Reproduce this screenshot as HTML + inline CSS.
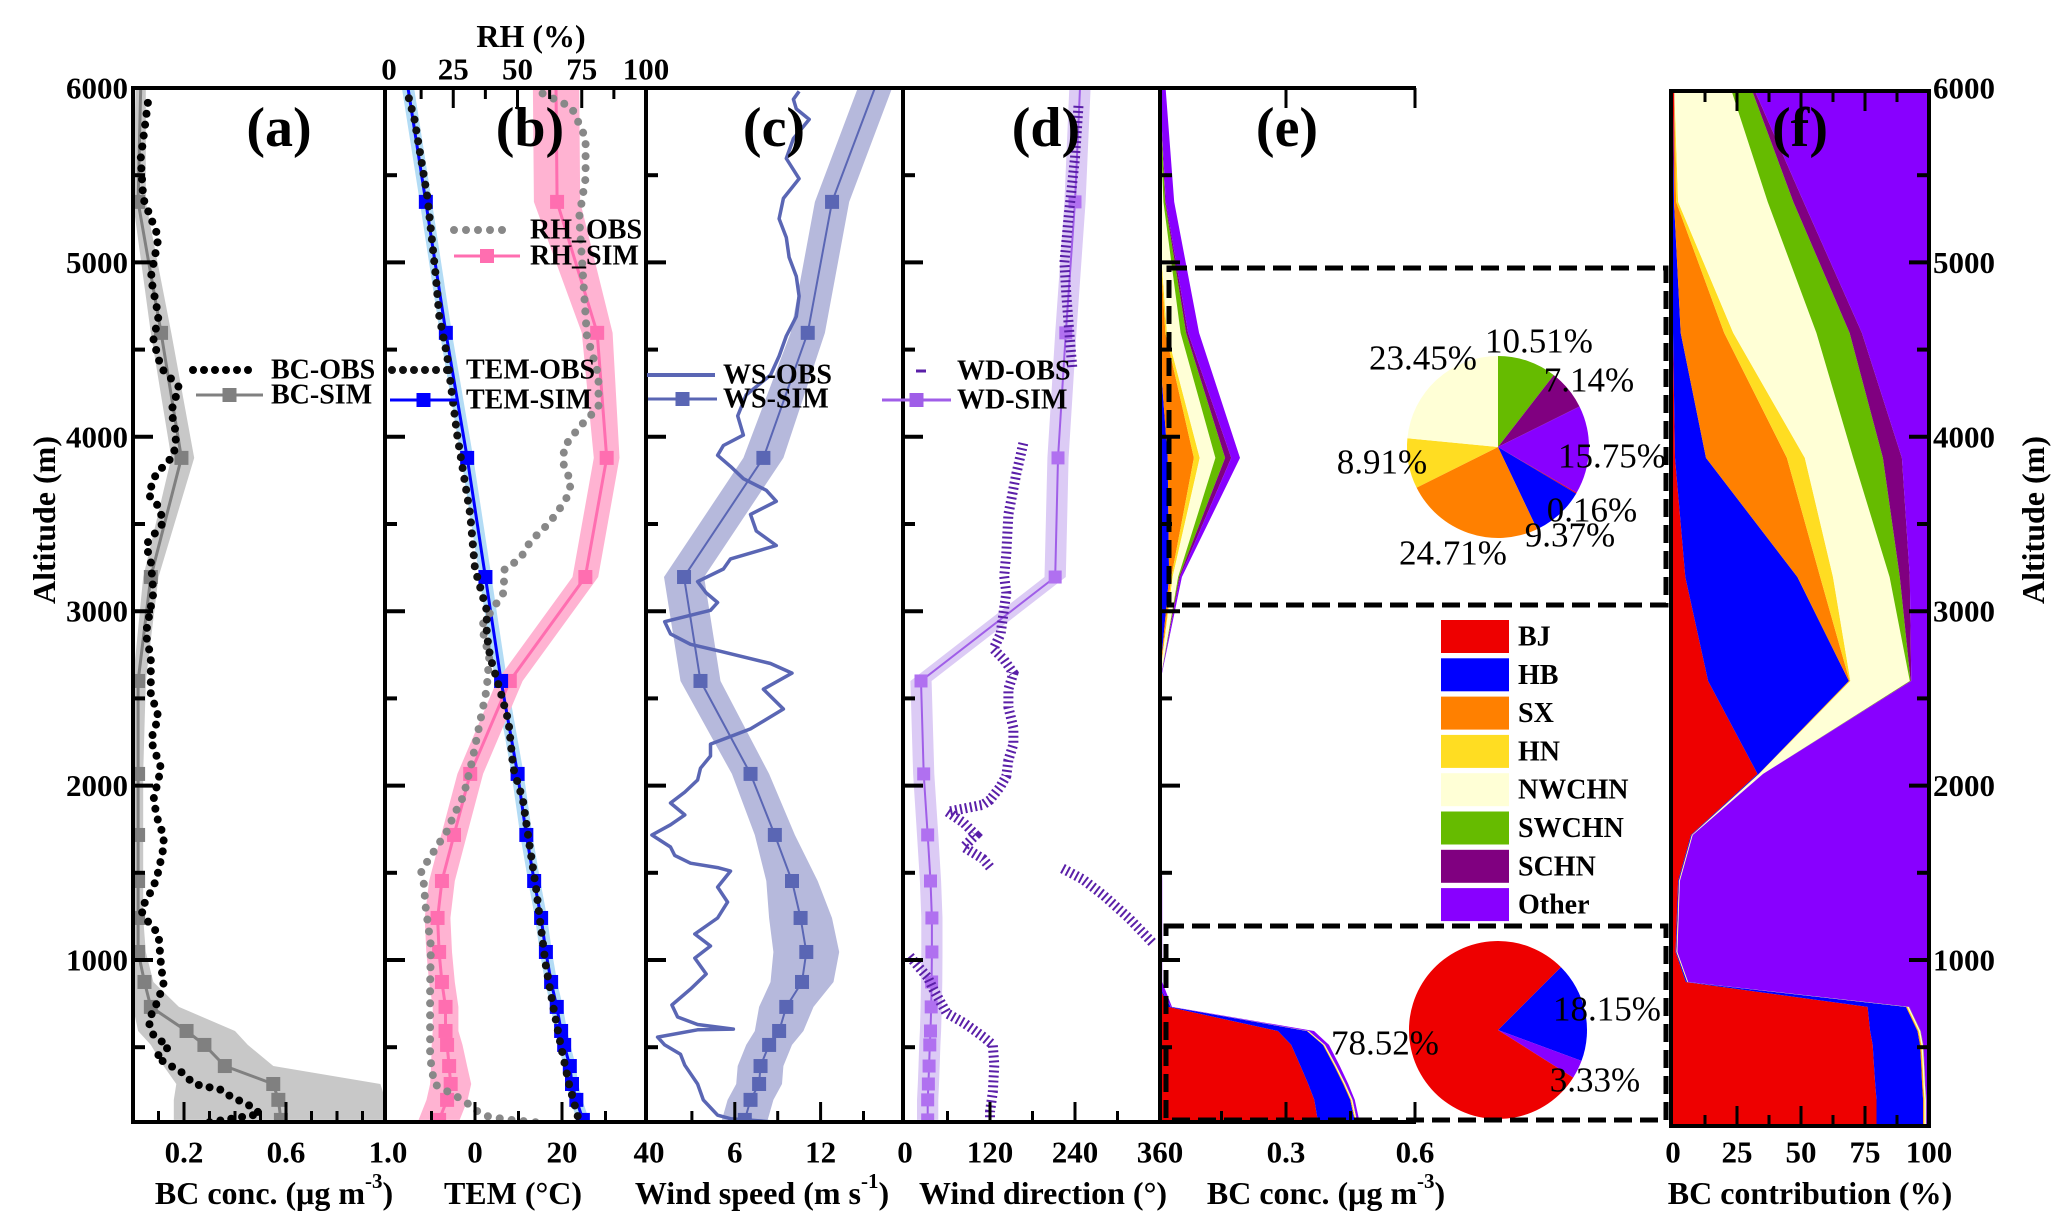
<!DOCTYPE html>
<html><head><meta charset="utf-8"><style>
html,body{margin:0;padding:0;background:#fff;}
svg{display:block;font-family:"Liberation Serif",serif;}
.tk{font-weight:bold;font-size:31px;}
.ti{font-weight:bold;font-size:32px;}
.pl{font-weight:bold;font-size:56px;}
.lg{font-weight:bold;font-size:28px;}
.pv{font-size:35px;}
</style></head><body>
<svg id="fig" width="2067" height="1230" viewBox="0 0 2067 1230" xmlns="http://www.w3.org/2000/svg">
<defs>
<clipPath id="cA"><rect x="133" y="88" width="252" height="1034"/></clipPath>
<clipPath id="cB"><rect x="385" y="88" width="261" height="1034"/></clipPath>
<clipPath id="cC"><rect x="646" y="88" width="257" height="1034"/></clipPath>
<clipPath id="cD"><rect x="903" y="88" width="257" height="1034"/></clipPath>
<clipPath id="cE"><rect x="1160" y="88" width="254" height="1034"/></clipPath>
<clipPath id="cF"><rect x="1671" y="91" width="258" height="1035"/></clipPath>
</defs>
<g id="marks"></g>
<g id="axes"></g>
</svg>
<script>
// ---------- data ----------
const levels=[83,198,289,392,513,593,731,874,1046,1241,1453,1717,2067,2600,3196,3879,4596,5347,6000];
const bcSim=[0.58,0.57,0.55,0.36,0.28,0.21,0.07,0.045,0.02,0.02,0.02,0.02,0.02,0.02,0.07,0.19,0.11,0.02,0.03];
const bcHi=[1.0,0.99,0.97,0.55,0.45,0.4,0.18,0.08,0.05,0.04,0.04,0.04,0.04,0.05,0.1,0.24,0.15,0.05,0.05];
const bcLo=[0.16,0.16,0.17,0.12,0.07,0.02,0,0,0,0,0,0,0,0,0.04,0.15,0.07,0,0.01];
const bcObsAlt=[70,117,163,220,254,289,357,443,502,570,650,740,857,966,1149,1218,1286,1418,1510,1648,1717,1786,1918,2100,2260,2393,2530,2737,2870,3105,3288,3380,3510,3601,3670,3785,3894,4010,4147,4285,4395,4555,4690,4914,5143,5367,5596,5820,5935];
const bcObsVal=[0.3,0.5,0.46,0.38,0.35,0.24,0.19,0.09,0.14,0.08,0.06,0.09,0.12,0.11,0.1,0.06,0.03,0.08,0.1,0.12,0.12,0.1,0.08,0.11,0.07,0.1,0.07,0.07,0.05,0.08,0.07,0.05,0.12,0.1,0.06,0.09,0.16,0.17,0.15,0.18,0.11,0.08,0.1,0.07,0.1,0.04,0.03,0.05,0.06];
const temSim=[24.8,23.3,22.3,21.8,20.5,19.8,18.8,17.5,16.3,15.2,13.6,11.8,9.8,6.0,2.4,-1.8,-6.7,-11.3,-15.4];
const temObsAlt=[105,289,513,742,966,1195,1418,1648,1918,2100,2370,2553,2737,2870,3005,3242,3555,4010,4463,4690,4914,5367,5820,5960];
const temObsVal=[23.6,21.6,19.7,17.9,16.3,15.1,14,12.6,11,8.8,7.7,5.7,3.5,2.7,2.7,0,-1.1,-4.1,-6.4,-8.2,-9,-10.9,-13.9,-15.4];
const rhSim=[19.5,22.6,24,23.4,22.6,22,22,20.6,19.5,18.9,20.6,25.3,31.6,47,76.4,84.7,81,65.4,65];
const rhBand=[8,8,8,7,6,5,5,5,5,5,5,5,5,5,5,5,6,9,9];
const rhObsAlt=[70,85,105,140,190,289,443,626,857,1080,1332,1418,1510,1740,1832,1940,2146,2370,2553,2737,2915,3105,3242,3300,3400,3487,3555,3647,3739,3830,3940,4055,4170,4354,4578,4807,5030,5260,5484,5713,5890,5981];
const rhObsVal=[57,46,38,33.5,29.6,17.6,16,16,16,16.3,14,13.8,12.5,22.6,25.3,29,32.4,35.5,38,39,36,44.5,45,51,55,61,65,69,71,68,68,74,81.5,81.5,77,76,75,74,76.5,76.5,71,58];
const wsSim=[6.7,7.1,7.7,7.8,8.4,9.1,9.6,10.7,11,10.6,10,8.8,7.1,3.6,2.45,8,11.1,12.8,15.8];
const wsBand=[1.6,1.6,1.6,1.6,1.6,1.7,1.9,2.2,2.3,2.2,1.8,1.4,1.3,1.4,1.4,1.4,1.2,1.2,1.2];
const wsObsAlt=[70,90,110,198,289,397,460,513,558,600,604,630,673,742,833,920,1011,1080,1149,1241,1332,1418,1510,1530,1555,1600,1648,1717,1775,1832,1900,1963,2032,2100,2170,2238,2325,2370,2439,2553,2645,2700,2770,2810,2870,2940,3005,3050,3105,3170,3242,3300,3377,3460,3555,3630,3693,3760,3830,3894,3950,4010,4120,4240,4354,4463,4578,4690,4807,4920,5030,5143,5250,5367,5480,5596,5710,5820,5880,5935,5981];
const wsObsVal=[8.9,5.7,4.8,3.8,3.4,2.5,2.2,1.1,0.6,3.4,5.9,3.4,2,1.6,2.9,4,3.2,4.3,3.2,4.8,5.5,4.8,5.7,4.8,2.9,1.8,1.5,0.2,1.5,2.5,1.5,2.5,3.4,3.6,4.3,4.3,7.1,8,9.4,8,10,8.5,5,2.9,1.5,1.1,4.3,4.8,4,3.4,5.2,5.7,8.9,7.5,7.1,8.9,8.2,6.6,5.7,4.8,5.2,6.6,6.2,6.8,8.5,9.1,9.6,10.3,10.5,10.3,9.8,9.6,9.1,9.4,10.5,9.6,10.1,11.2,10.3,10.1,10.5];
const wdSim=[32,32,33,34,35,36,37,37.6,38,38,36,32,26.4,22.6,212,216,227,240,247];
const wdObsAlt=[70,130,242,400,513,558,600,640,695,760,833,900,966,1034,null,1101,1241,1372,1463,1532,null,1532,1580,1648,1717,1786,1850,1890,1918,1990,2055,2146,2238,2330,2450,2553,2645,2720,2784,2870,3105,3200,3333,3555,3785,3963,null,4400,4600,4800,5000,5300,5600,5900];
const wdObsVal=[120,120,124,126,124,111,97,83,59,50,40,32,18,4,null,349,316,280,251,219,null,120,110,83,100,83,60,110,120,134,143,146,153,153,146,146,153,140,125,135,143,140,143,146,157,167,null,236,232,228,225,232,240,245];
const sources=["BJ","HB","SX","HN","NWCHN","SWCHN","SCHN","Other"];
const srcColors=["#ee0000","#0000ff","#ff8000","#ffdd22","#ffffd6","#66bb00","#800080","#8800ff"];
const fBJ=[79.5,79.5,79,78.5,78,77,76,5,1,1.5,2,7,33,13.7,4.8,0.8,0,0,0.5];
const fHB=[18.2,18.2,18.3,18.5,18.5,18.5,15,0.5,0.3,0.3,0.3,0.3,0.5,55,43.8,12.1,3,0.4,0];
const fSX=[0.3,0.3,0.3,0.3,0.3,0.3,0.3,0.1,0.1,0.1,0.1,0.1,0.1,0.3,8.9,31.6,17,0.8,0];
const fHN=[0.3,0.3,0.3,0.3,0.3,0.3,0.3,0.1,0.1,0.1,0.1,0.1,0.1,0.3,5,7,3.5,0.8,0];
const fNW=[0.5,0.5,0.5,0.5,0.5,0.5,0.5,0.2,0.2,0.2,0.2,0.2,1.5,23.2,22.1,18.9,32.5,35,22];
const fSW=[0.1,0.1,0.1,0.1,0.1,0.1,0.1,0,0,0,0,0,0,0.3,4,11.6,13,10,8];
const fSC=[0.1,0.1,0.1,0.1,0.1,0.1,0.1,0,0,0,0,0,0,0.3,3.9,7.4,4.8,4,1];
const fOth=[1.0,1.0,1.4,1.7,2.2,3.2,7.7,94.1,98.3,97.8,97.3,92.3,64.8,6.9,7.5,10.6,26.2,49,68.5];
const eTotal=[0.475,0.46,0.445,0.425,0.40,0.365,0.035,0.012,0.012,0.012,0.012,0.01,0.008,0.008,0.058,0.193,0.098,0.04,0.02];
const pieUpVals=[10.51,7.14,15.75,0.16,9.37,24.71,8.91,23.45];
const pieUpSrc=[5,6,7,0,1,2,3,4];
const pieUpLabels=["10.51%","7.14%","15.75%","0.16%","9.37%","24.71%","8.91%","23.45%"];
const pieLowVals=[18.15,3.33,78.52];
const pieLowSrc=[1,7,0];
const pieLowLabels=["18.15%","3.33%","78.52%"];
</script>
<script>
const NS="http://www.w3.org/2000/svg";
const marks=document.getElementById('marks'), axes=document.getElementById('axes');
function el(tag,attrs,parent){const e=document.createElementNS(NS,tag);for(const k in attrs)e.setAttribute(k,attrs[k]);(parent||marks).appendChild(e);return e;}
const yA=a=>1134.4-a*0.1744;
const xa=v=>133+v*255, xt=t=>475+t*4.35, xr=r=>389+r*2.57, xw=w=>649+w*14.3, xd=d=>905+d*255/360, xe=v=>1157+v*430, xf=p=>1673+p*2.56;
function pathOf(xs,alts){let d="",pen=false;for(let i=0;i<alts.length;i++){if(alts[i]===null||xs[i]===null){pen=false;continue;}d+=(pen?"L":"M")+xs[i].toFixed(1)+" "+yA(alts[i]).toFixed(1)+" ";pen=true;}return d;}
function band(lo,hi){let d="M";for(let i=0;i<levels.length;i++)d+=hi[i].toFixed(1)+" "+yA(levels[i]).toFixed(1)+" L";for(let i=levels.length-1;i>=0;i--)d+=lo[i].toFixed(1)+" "+yA(levels[i]).toFixed(1)+(i?" L":" Z");return d;}
function squares(g,xs,col,s,name){for(let i=0;i<levels.length-1;i++){const r=el('rect',{x:xs[i]-s/2,y:yA(levels[i])-s/2,width:s,height:s,fill:col},g);}}
function grp(clip,name){const g=el('g',{'clip-path':'url(#'+clip+')'});return g;}

// panel a
let g=grp('cA','panel-a-bc');
let p=el('path',{d:band(bcLo.map(xa),bcHi.map(xa)),fill:'#c8c8c8'},g);
p=el('path',{d:pathOf(bcSim.map(xa),levels),fill:'none',stroke:'#808080','stroke-width':3},g);
squares(g,bcSim.map(xa),'#808080',14,'bc-sim-marker');
p=el('path',{d:pathOf(bcObsVal.map(xa),bcObsAlt),fill:'none',stroke:'#000','stroke-width':8,'stroke-linecap':'round','stroke-dasharray':'0 11'},g);

// panel b
g=grp('cB','panel-b-tem-rh');
p=el('path',{d:band(temSim.map(t=>xt(t-1.4)),temSim.map(t=>xt(t+1.4))),fill:'#b3dcf5'},g);
p=el('path',{d:band(rhSim.map((r,i)=>xr(r-rhBand[i])),rhSim.map((r,i)=>xr(r+rhBand[i]))),fill:'#ffb3d2'},g);
p=el('path',{d:pathOf(rhSim.map(xr),levels),fill:'none',stroke:'#ff6eb0','stroke-width':3},g);
squares(g,rhSim.map(xr),'#ff6eb0',14,'rh-sim-marker');
p=el('path',{d:pathOf(temSim.map(xt),levels),fill:'none',stroke:'#0000ff','stroke-width':3},g);
squares(g,temSim.map(xt),'#0000ff',14,'tem-sim-marker');
p=el('path',{d:pathOf(rhObsVal.map(xr),rhObsAlt),fill:'none',stroke:'#888','stroke-width':8,'stroke-linecap':'round','stroke-dasharray':'0 12'},g);
p=el('path',{d:pathOf(temObsVal.map(xt),temObsAlt),fill:'none',stroke:'#111','stroke-width':8,'stroke-linecap':'round','stroke-dasharray':'0 11'},g);

// panel c
g=grp('cC','panel-c-ws');
p=el('path',{d:band(wsSim.map((w,i)=>xw(w-wsBand[i])),wsSim.map((w,i)=>xw(w+wsBand[i]))),fill:'#b6b9dc'},g);
p=el('path',{d:pathOf(wsSim.map(xw),levels),fill:'none',stroke:'#5a66b4','stroke-width':2},g);
squares(g,wsSim.map(xw),'#5a66b4',14,'ws-sim-marker');
p=el('path',{d:pathOf(wsObsVal.map(xw),wsObsAlt),fill:'none',stroke:'#5a66b4','stroke-width':3.5,'stroke-linejoin':'round'},g);

// panel d
g=grp('cD','panel-d-wd');
p=el('path',{d:band(wdSim.map(d=>xd(d-15)),wdSim.map(d=>xd(d+15))),fill:'#dccbf5'},g);
p=el('path',{d:pathOf(wdSim.map(xd),levels),fill:'none',stroke:'#a05ee8','stroke-width':2},g);
squares(g,wdSim.map(xd),'#b070f0',13,'wd-sim-marker');
p=el('path',{d:pathOf(wdObsVal.map(v=>v===null?null:xd(v)),wdObsAlt),fill:'none',stroke:'#5a1fa8','stroke-width':10,'stroke-dasharray':'2 3'},g);

// panels e & f stacked
const fShares=[fBJ,fHB,fSX,fHN,fNW,fSW,fSC,fOth];
function stack(xfun,scaleArr,clip,name){
  const g=grp(clip,name);
  let cumLo=levels.map(()=>0);
  for(let s=0;s<8;s++){
    const cumHi=cumLo.map((c,i)=>c+fShares[s][i]*scaleArr[i]/100);
    let d="M";const n=levels.length;
    const ys=levels.map(yA);ys[0]=1130;
    for(let i=0;i<n;i++)d+=xfun(cumHi[i]).toFixed(1)+" "+ys[i].toFixed(1)+" L";
    for(let i=n-1;i>=0;i--)d+=xfun(cumLo[i]).toFixed(1)+" "+ys[i].toFixed(1)+(i?" L":" Z");
    const a=el('path',{d:d,fill:srcColors[s]},g);
    
    
    cumLo=cumHi;
  }
}
stack(xe,eTotal,'cE','panel-e-bc-stack');
stack(xf,levels.map(()=>100),'cF','panel-f-contribution-stack');

// pies
function pie(cx,cy,r,vals,srcs,start,name){
  const g=el('g',{});
  let a=start*Math.PI/180;const tot=vals.reduce((s,v)=>s+v,0);
  vals.forEach((v,i)=>{const b=a+v/tot*2*Math.PI;
    const x1=cx+r*Math.sin(a),y1=cy-r*Math.cos(a),x2=cx+r*Math.sin(b),y2=cy-r*Math.cos(b);
    const s=el('path',{d:`M${cx} ${cy} L${x1.toFixed(1)} ${y1.toFixed(1)} A${r} ${r} 0 ${b-a>Math.PI?1:0} 1 ${x2.toFixed(1)} ${y2.toFixed(1)} Z`,fill:srcColors[srcs[i]]},g);
    
    
    a=b;});
}
pie(1498,447,91,pieUpVals,pieUpSrc,0,'pie-upper');
pie(1498,1030,89,pieLowVals,pieLowSrc,45,'pie-lower');

// ---------- axes ----------
function ln(x1,y1,x2,y2,w,name){const l=el('line',{x1,y1,x2,y2,stroke:'#000','stroke-width':w||4},axes);return l;}
function tx(x,y,s,cls,anchor,name,extra){const t=el('text',Object.assign({x,y,class:cls,'text-anchor':anchor||'middle','dominant-baseline':'central'},extra||{}),axes);t.textContent=s;return t;}
ln(131,88,1416,88,4,'top-axis');
ln(131,1122,1416,1122,4,'bottom-axis');
[133,385,646,903,1160].forEach(x=>ln(x,86,x,1124,4,'panel-divider'));
// f box
ln(1671,91,1929,91,4,'f-top-axis');ln(1671,1126,1929,1126,4,'f-bottom-axis');ln(1671,89,1671,1128,4,'f-left-axis');ln(1929,89,1929,1128,4,'f-right-axis');
// left ticks
[133,385,646,903,1160].forEach(x=>{for(let a=500;a<6000;a+=500){const maj=a%1000===0;ln(x,yA(a),x+(maj?20:12),yA(a),4,'y-tick');}});
for(let a=500;a<6000;a+=500){const maj=a%1000===0;ln(1929,yA(a),1929-(maj?20:12),yA(a),4,'y-tick-right');}
[1000,2000,3000,4000,5000,6000].forEach(a=>{tx(128,yA(a),String(a),'tk','end','y-tick-label');tx(1933,yA(a),String(a),'tk','start','y-tick-label-right');});
// bottom ticks
function bt(fn,vals,maj,ybase,dir,name){vals.forEach(v=>{const x=fn(v);ln(x,ybase,x,ybase+dir*(maj(v)?20:11),3,name);});}
bt(xa,[0.1,0.2,0.3,0.4,0.5,0.6,0.7,0.8,0.9],v=>Math.abs(v*10%4-2)<0.01,1122,-1,'x-tick-a');
bt(xt,[-10,0,10,20,30],v=>v%20===0,1122,-1,'x-tick-b');
bt(xw,[3,6,9,12,15],v=>v%6===0,1122,-1,'x-tick-c');
bt(xd,[60,120,180,240,300],v=>v%120===0,1122,-1,'x-tick-d');
bt(xe,[0.15,0.3,0.45,0.6],v=>Math.abs(v-0.3)<0.01||Math.abs(v-0.6)<0.01,1122,-1,'x-tick-e');
bt(xf,[12.5,25,37.5,50,62.5,75,87.5],v=>v%25===0,1126,-1,'x-tick-f');
bt(xf,[12.5,25,37.5,50,62.5,75,87.5],v=>v%25===0,91,1,'x-tick-f-top');
bt(xr,[12.5,25,37.5,50,62.5,75,87.5],v=>v%25===0,88,1,'x-tick-rh-top');
bt(xe,[0.3,0.6],v=>true,88,1,'x-tick-e-top');
const yl=1152;
[[xa,[0.2,0.6,1.0],v=>v.toFixed(1)],[xt,[0,20,40],String],[xw,[6,12],String],[xd,[0,120,240,360],String],[xe,[0.3,0.6],v=>v.toFixed(1)],[xf,[0,25,50,75,100],String]].forEach(([fn,vs,fmt])=>vs.forEach(v=>tx(fn(v),yl,fmt(v),'tk','middle','x-tick-label')));
[0,25,50,75,100].forEach(v=>tx(xr(v),69,String(v),'tk','middle','rh-tick-label'));
tx(531,36,'RH (%)','ti','middle','rh-axis-title');
function supTitle(x,y,pre,sup,post,name){const t=tx(x,y,'','ti','middle',name);t.appendChild(document.createTextNode(pre));const s=document.createElementNS(NS,'tspan');s.setAttribute('dy','-12');s.setAttribute('font-size','21');s.textContent=sup;t.appendChild(s);const q=document.createElementNS(NS,'tspan');q.setAttribute('dy','12');q.textContent=post;t.appendChild(q);}
supTitle(274,1193,'BC conc. (μg m','-3',')','x-axis-title-a');
tx(513,1193,'TEM (°C)','ti','middle','x-axis-title-b');
supTitle(762,1193,'Wind speed (m s','-1',')','x-axis-title-c');
tx(1043,1193,'Wind direction (°)','ti','middle','x-axis-title-d');
supTitle(1326,1193,'BC conc. (μg m','-3',')','x-axis-title-e');
tx(1810,1193,'BC contribution (%)','ti','middle','x-axis-title-f');
tx(44,520,'Altitude (m)','ti','middle','y-axis-title-left',{transform:'rotate(-90 44 520)'});
tx(2033,520,'Altitude (m)','ti','middle','y-axis-title-right',{transform:'rotate(-90 2033 520)'});
[['(a)',279],['(b)',530],['(c)',774],['(d)',1046],['(e)',1287],['(f)',1800]].forEach(([s,x])=>tx(x,128,s,'pl','middle','panel-label'));
// dashed boxes
[[1169,268,497,337],[1166,926,500,194]].forEach(([x,y,w,h])=>{const r=el('rect',{x,y,width:w,height:h,fill:'none',stroke:'#000','stroke-width':5,'stroke-dasharray':'18 8'},axes);});
// pie labels
const upPos=[[1539,341],[1589,380],[1612,456],[1592,510],[1570,535],[1453,553],[1382,462],[1423,358]];
pieUpLabels.forEach((s,i)=>tx(upPos[i][0],upPos[i][1],s,'pv','middle','pie-upper-label'));
const lowPos=[[1607,1009],[1595,1080],[1385,1043]];
pieLowLabels.forEach((s,i)=>tx(lowPos[i][0],lowPos[i][1],s,'pv','middle','pie-lower-label'));
// source legend
sources.forEach((s,i)=>{const y=620+i*38.3;const r=el('rect',{x:1441,y:y,width:68,height:33,fill:srcColors[i]},axes);tx(1518,y+17,s,'lg','start','legend-label-'+s.toLowerCase());});
// series legends
function legLine(x1,x2,y,col,w,dash,sq,name){const l=el('line',{x1,y1:y,x2,y2:y,stroke:col,'stroke-width':w,'stroke-linecap':dash?'round':'butt','stroke-dasharray':dash||'none'},axes);if(sq){const r=el('rect',{x:(x1+x2)/2-7,y:y-7,width:14,height:14,fill:col},axes);}}
legLine(193,253,370,'#000',8,'0 11',false,'legend-bc-obs');tx(271,370,'BC-OBS','lg','start','legend-bc-obs-label');
legLine(196,263,395,'#808080',3,null,true,'legend-bc-sim');tx(271,395,'BC-SIM','lg','start','legend-bc-sim-label');
legLine(392,454,370,'#111',8,'0 11',false,'legend-tem-obs');tx(466,370,'TEM-OBS','lg','start','legend-tem-obs-label');
legLine(390,457,400,'#0000ff',3,null,true,'legend-tem-sim');tx(466,400,'TEM-SIM','lg','start','legend-tem-sim-label');
legLine(454,513,230,'#888',8,'0 12',false,'legend-rh-obs');tx(530,230,'RH_OBS','lg','start','legend-rh-obs-label');
legLine(454,520,256,'#ff6eb0',3,null,true,'legend-rh-sim');tx(530,256,'RH_SIM','lg','start','legend-rh-sim-label');
legLine(647,715,375,'#5a66b4',4,null,false,'legend-ws-obs');tx(723,375,'WS-OBS','lg','start','legend-ws-obs-label');
legLine(648,717,399,'#5a66b4',3,null,true,'legend-ws-sim');tx(723,399,'WS-SIM','lg','start','legend-ws-sim-label');
legLine(916,926,371,'#5a1fa8',3,null,false,'legend-wd-obs');tx(957,371,'WD-OBS','lg','start','legend-wd-obs-label');
legLine(882,951,400,'#a05ee8',3,null,true,'legend-wd-sim');tx(957,400,'WD-SIM','lg','start','legend-wd-sim-label');
</script>
</body></html>
